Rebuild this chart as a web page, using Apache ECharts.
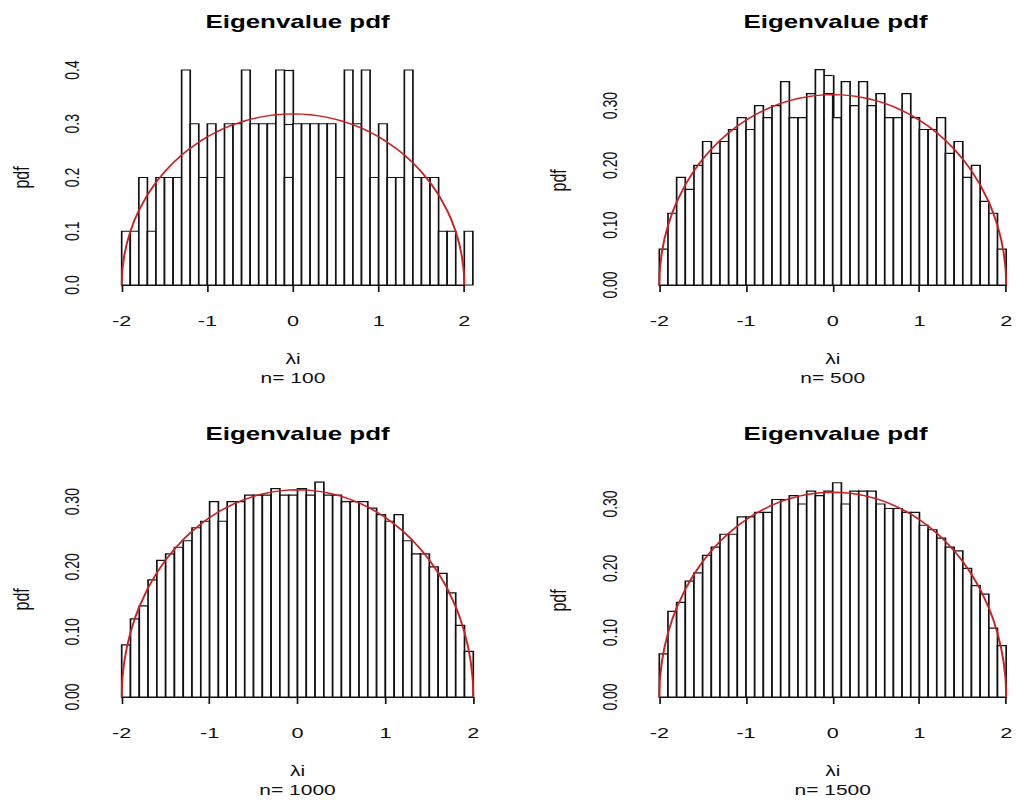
<!DOCTYPE html>
<html>
<head>
<meta charset="utf-8">
<title>Eigenvalue pdf</title>
<script src="https://cdn.jsdelivr.net/npm/echarts@6/dist/echarts.min.js"></script>
<style>
  html, body { margin: 0; padding: 0; background: #fff; overflow: hidden; }
  /* the reference is stretched sideways, so the chart is drawn narrow and widened */
  #main { width: 726px; height: 803px; transform: scaleX(1.4); transform-origin: 0 0; }
</style>
</head>
<body>
<div id="main"></div>
<script>
// histogram bins: width 0.1 starting at -2
const binStart = -2;
const binWidth = 0.1;

const dens100 = [0.1, 0.1, 0.2, 0.1, 0.2, 0.2, 0.2, 0.4, 0.3, 0.2,
                 0.3, 0.2, 0.3, 0.3, 0.4, 0.3, 0.3, 0.3, 0.4, 0.2,
                 0.3, 0.3, 0.3, 0.3, 0.3, 0.2, 0.4, 0.3, 0.4, 0.2,
                 0.3, 0.2, 0.2, 0.4, 0.2, 0.2, 0.2, 0.1, 0.1, 0.0,
                 0.1];
const dens500 = [0.06, 0.12, 0.18, 0.16, 0.20, 0.24, 0.22, 0.24, 0.26, 0.28,
                 0.26, 0.30, 0.28, 0.30, 0.34, 0.28, 0.28, 0.32, 0.36, 0.32,
                 0.28, 0.34, 0.30, 0.34, 0.30, 0.32, 0.28, 0.28, 0.32, 0.28,
                 0.26, 0.26, 0.28, 0.22, 0.24, 0.18, 0.20, 0.14, 0.12, 0.06];
const dens1000 = [0.08, 0.12, 0.14, 0.18, 0.21, 0.22, 0.23, 0.24, 0.26, 0.27,
                  0.30, 0.27, 0.30, 0.30, 0.31, 0.31, 0.31, 0.32, 0.31, 0.31,
                  0.32, 0.31, 0.33, 0.31, 0.31, 0.30, 0.30, 0.30, 0.29, 0.28,
                  0.27, 0.28, 0.24, 0.22, 0.22, 0.20, 0.19, 0.16, 0.11, 0.07];
const dens1500 = [0.067, 0.133, 0.147, 0.180, 0.193, 0.220, 0.233, 0.253, 0.253, 0.280,
                  0.280, 0.287, 0.287, 0.307, 0.307, 0.313, 0.300, 0.320, 0.313, 0.320,
                  0.333, 0.300, 0.320, 0.320, 0.320, 0.300, 0.293, 0.293, 0.287, 0.287,
                  0.267, 0.260, 0.247, 0.233, 0.227, 0.200, 0.173, 0.160, 0.107, 0.080];

// red semicircle curve (same in every panel)
const curveX = [-2, -1.995, -1.99, -1.97, -1.94, -1.9, -1.85, -1.8, -1.7, -1.6, -1.5, -1.4, -1.3,
                -1.2, -1.1, -1.0, -0.9, -0.8, -0.7, -0.6, -0.5, -0.4, -0.3, -0.2, -0.1, 0,
                0.1, 0.2, 0.3, 0.4, 0.5, 0.6, 0.7, 0.8, 0.9, 1.0, 1.1, 1.2,
                1.3, 1.4, 1.5, 1.6, 1.7, 1.8, 1.85, 1.9, 1.94, 1.97, 1.99, 1.995, 2];
const curveY = [0, 0.0225, 0.0318, 0.0549, 0.0774, 0.0994, 0.1209, 0.1387, 0.1677, 0.1910, 0.2105, 0.2273, 0.2419,
                0.2546, 0.2658, 0.2757, 0.2843, 0.2917, 0.2982, 0.3037, 0.3082, 0.3119, 0.3147, 0.3167, 0.3179, 0.3183,
                0.3179, 0.3167, 0.3147, 0.3119, 0.3082, 0.3037, 0.2982, 0.2917, 0.2843, 0.2757, 0.2658, 0.2546,
                0.2419, 0.2273, 0.2105, 0.1910, 0.1677, 0.1387, 0.1209, 0.0994, 0.0774, 0.0549, 0.0318, 0.0225, 0];

const xTicks = [-2, 2, 1];   // min, max, step

const SX = 1.4;
const ink = '#111';
const font = '"Liberation Sans", Arial, Helvetica, sans-serif';

// screen px: x of -2, x of 2, y of top tick, y of 0, y-axis line x, title centre x, title y
const panels = [
  {dens: dens100,  n: 100,  box: [121.7, 464.3, 70,    285], axisX: 107.7, cx: 297.5, ty: 12,  yMax: 0.4,  yStep: 0.1,  dig: 1},
  {dens: dens500,  n: 500,  box: [659.3, 1011.7, 75.7, 285], axisX: 645.2, cx: 835.5, ty: 12,  yMax: 0.35, yStep: 0.05, dig: 2},
  {dens: dens1000, n: 1000, box: [121.7, 473.3, 501.7, 697], axisX: 107.7, cx: 297.5, ty: 424, yMax: 0.30, yStep: 0.05, dig: 2},
  {dens: dens1500, n: 1500, box: [659.3, 1011.7, 504,  697], axisX: 645.2, cx: 835.5, ty: 424, yMax: 0.30, yStep: 0.05, dig: 2}
];

const grid = [], xAxis = [], yAxis = [], series = [], title = [];

panels.forEach((p, i) => {
  const [x0, x1, yt, yb] = p.box;
  grid.push({left: x0 / SX, width: (x1 - x0) / SX, top: yt, height: yb - yt});

  title.push({
    text: 'Eigenvalue pdf', left: p.cx / SX, top: p.ty, textAlign: 'center', padding: 0,
    textStyle: {fontSize: 18.5, fontWeight: 'bold', color: '#000', fontFamily: font}
  });

  xAxis.push({
    gridIndex: i, type: 'value', min: xTicks[0], max: xTicks[1], interval: xTicks[2],
    offset: 8.6,
    axisLine: {show: true, lineStyle: {color: ink, width: 1.2}},
    axisTick: {show: true, length: 7, lineStyle: {color: ink, width: 1.2}},
    axisLabel: {color: ink, fontSize: 15.5, fontFamily: font, margin: 19},
    splitLine: {show: false},
    name: 'λi\nn= ' + p.n, nameLocation: 'middle', nameGap: 56,
    nameTextStyle: {color: ink, fontSize: 15, fontFamily: font, lineHeight: 19, verticalAlign: 'top'}
  });

  yAxis.push({
    gridIndex: i, type: 'value', min: 0, max: p.yMax, interval: p.yStep,
    offset: (x0 - p.axisX) / SX,
    axisLine: {show: true, lineStyle: {color: ink, width: 1.2}},
    axisTick: {show: true, length: 9, lineStyle: {color: ink, width: 1.2}},
    axisLabel: {
      color: ink, fontSize: 14, fontFamily: font, rotate: 90, margin: 18,
      formatter: v => (Math.round(v * 100) % 10 === 0 ? v.toFixed(p.dig) : '')
    },
    splitLine: {show: false},
    name: 'pdf', nameLocation: 'middle', nameRotate: 90, nameGap: 54,
    nameTextStyle: {color: ink, fontSize: 16, fontFamily: font}
  });

  series.push({
    type: 'custom', xAxisIndex: i, yAxisIndex: i, clip: false,
    data: p.dens.map((d, k) => [binStart + k * binWidth, binStart + (k + 1) * binWidth, d]),
    renderItem: (params, api) => {
      const a = api.coord([api.value(0), api.value(2)]);
      const b = api.coord([api.value(1), 0]);
      return {
        type: 'rect',
        shape: {x: a[0], y: a[1], width: b[0] - a[0], height: b[1] - a[1]},
        style: {fill: '#fff', stroke: ink, lineWidth: 1.2}
      };
    }
  });

  series.push({
    type: 'line', xAxisIndex: i, yAxisIndex: i, clip: false,
    data: curveX.map((x, k) => [x, curveY[k]]),
    symbol: 'none', silent: true,
    lineStyle: {color: '#cc2020', width: 1.4}
  });
});

const chart = echarts.init(document.getElementById('main'), null, {renderer: 'svg'});
chart.setOption({
  animation: false,
  backgroundColor: '#fff',
  title, grid, xAxis, yAxis, series
});
</script>
</body>
</html>
